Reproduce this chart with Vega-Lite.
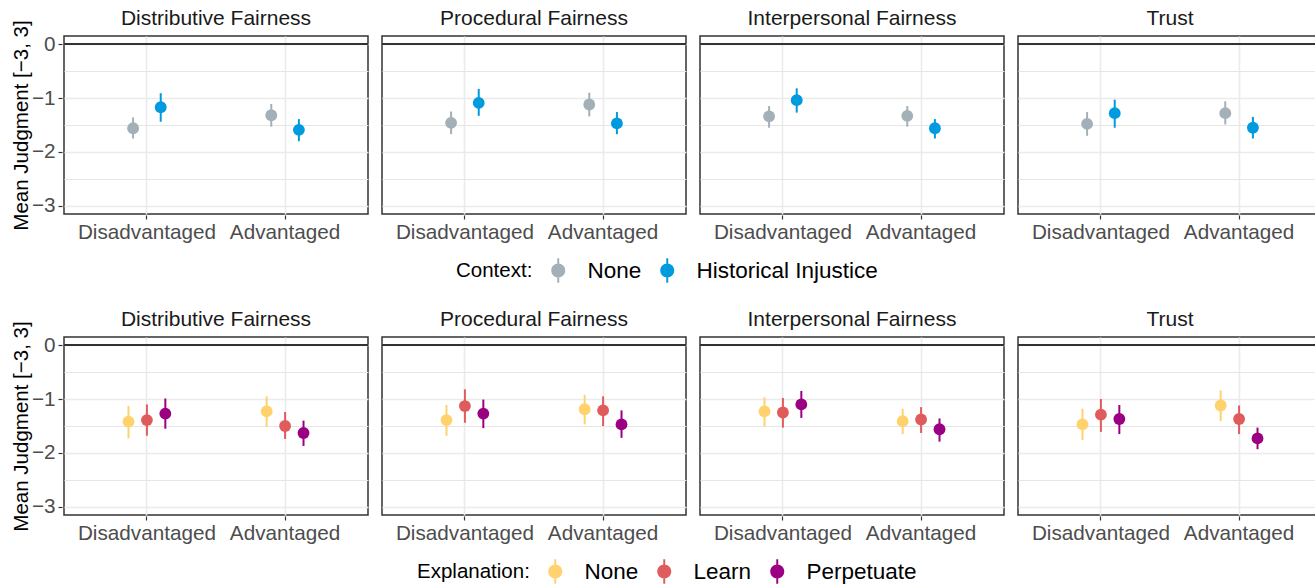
{
  "$schema": "https://vega.github.io/schema/vega-lite/v6.json",
  "background": "white",
  "padding": {"left": 11, "top": 8, "right": 2, "bottom": 2},
  "config": {
    "font": "Liberation Sans",
    "view": {"stroke": "#333333", "strokeWidth": 1.5},
    "concat": {"spacing": 26},
    "axis": {
      "domain": false,
      "tickColor": "#333333",
      "tickSize": 4,
      "tickWidth": 1.2,
      "labelFontSize": 20.7,
      "labelColor": "#4d4d4d",
      "labelPadding": 3,
      "titleFontSize": 20.5,
      "titleFontWeight": "normal",
      "titleColor": "#000000",
      "gridColor": "#ebebeb"
    },
    "axisY": {
      "values": [-3, -2.5, -2, -1.5, -1, -0.5, 0],
      "format": "d",
      "grid": true,
      "labelExpr": "datum.value % 1 === 0 ? datum.label : ''",
      "gridWidth": {"condition": {"test": "datum.value % 1 !== 0", "value": 1.2}, "value": 1.6},
      "gridColor": {"condition": {"test": "datum.value % 1 !== 0", "value": "#e6e6e6"}, "value": "#ebebeb"},
      "tickOpacity": {"condition": {"test": "datum.value % 1 !== 0", "value": 0}, "value": 1},
      "titlePadding": 0
    },
    "header": {
      "labelFontSize": 21,
      "labelColor": "#1a1a1a",
      "labelPadding": 6
    },
    "legend": {
      "orient": "bottom",
      "direction": "horizontal",
      "titleOrient": "left",
      "titleFontSize": 20.5,
      "titleFontWeight": "normal",
      "titleColor": "#000000",
      "titlePadding": 14,
      "labelFontSize": 22.5,
      "labelColor": "#000000",
      "labelOffset": 18,
      "labelLimit": 400,
      "columnPadding": 14,
      "symbolSize": 196,
      "symbolStrokeWidth": 0,
      "symbolOpacity": 1,
      "symbolType": "M-0.14,-1.75H0.14V1.75H-0.14Z M1,0A1,1 0 1,1 -1,0A1,1 0 1,1 1,0Z",
      "offset": 17,
      "layout": {"bottom": {"anchor": "middle"}}
    }
  },
  "datasets": {
    "context": [
      {"measure": "Distributive Fairness", "group": "Disadvantaged", "context": "None", "mean": -1.56, "lo": -1.75, "hi": -1.36},
      {"measure": "Distributive Fairness", "group": "Disadvantaged", "context": "Historical Injustice", "mean": -1.17, "lo": -1.44, "hi": -0.91},
      {"measure": "Distributive Fairness", "group": "Advantaged", "context": "None", "mean": -1.32, "lo": -1.53, "hi": -1.11},
      {"measure": "Distributive Fairness", "group": "Advantaged", "context": "Historical Injustice", "mean": -1.59, "lo": -1.80, "hi": -1.39},
      {"measure": "Procedural Fairness", "group": "Disadvantaged", "context": "None", "mean": -1.46, "lo": -1.67, "hi": -1.25},
      {"measure": "Procedural Fairness", "group": "Disadvantaged", "context": "Historical Injustice", "mean": -1.09, "lo": -1.33, "hi": -0.83},
      {"measure": "Procedural Fairness", "group": "Advantaged", "context": "None", "mean": -1.12, "lo": -1.34, "hi": -0.90},
      {"measure": "Procedural Fairness", "group": "Advantaged", "context": "Historical Injustice", "mean": -1.47, "lo": -1.67, "hi": -1.26},
      {"measure": "Interpersonal Fairness", "group": "Disadvantaged", "context": "None", "mean": -1.34, "lo": -1.55, "hi": -1.15},
      {"measure": "Interpersonal Fairness", "group": "Disadvantaged", "context": "Historical Injustice", "mean": -1.04, "lo": -1.27, "hi": -0.82},
      {"measure": "Interpersonal Fairness", "group": "Advantaged", "context": "None", "mean": -1.33, "lo": -1.53, "hi": -1.15},
      {"measure": "Interpersonal Fairness", "group": "Advantaged", "context": "Historical Injustice", "mean": -1.56, "lo": -1.75, "hi": -1.39},
      {"measure": "Trust", "group": "Disadvantaged", "context": "None", "mean": -1.48, "lo": -1.70, "hi": -1.26},
      {"measure": "Trust", "group": "Disadvantaged", "context": "Historical Injustice", "mean": -1.28, "lo": -1.55, "hi": -1.03},
      {"measure": "Trust", "group": "Advantaged", "context": "None", "mean": -1.28, "lo": -1.49, "hi": -1.06},
      {"measure": "Trust", "group": "Advantaged", "context": "Historical Injustice", "mean": -1.55, "lo": -1.75, "hi": -1.35}
    ],
    "explanation": [
      {"measure": "Distributive Fairness", "group": "Disadvantaged", "explanation": "None", "mean": -1.42, "lo": -1.73, "hi": -1.13},
      {"measure": "Distributive Fairness", "group": "Disadvantaged", "explanation": "Learn", "mean": -1.39, "lo": -1.68, "hi": -1.10},
      {"measure": "Distributive Fairness", "group": "Disadvantaged", "explanation": "Perpetuate", "mean": -1.27, "lo": -1.55, "hi": -0.99},
      {"measure": "Distributive Fairness", "group": "Advantaged", "explanation": "None", "mean": -1.23, "lo": -1.52, "hi": -0.95},
      {"measure": "Distributive Fairness", "group": "Advantaged", "explanation": "Learn", "mean": -1.50, "lo": -1.74, "hi": -1.24},
      {"measure": "Distributive Fairness", "group": "Advantaged", "explanation": "Perpetuate", "mean": -1.63, "lo": -1.87, "hi": -1.40},
      {"measure": "Procedural Fairness", "group": "Disadvantaged", "explanation": "None", "mean": -1.39, "lo": -1.68, "hi": -1.11},
      {"measure": "Procedural Fairness", "group": "Disadvantaged", "explanation": "Learn", "mean": -1.13, "lo": -1.44, "hi": -0.82},
      {"measure": "Procedural Fairness", "group": "Disadvantaged", "explanation": "Perpetuate", "mean": -1.27, "lo": -1.54, "hi": -1.01},
      {"measure": "Procedural Fairness", "group": "Advantaged", "explanation": "None", "mean": -1.19, "lo": -1.47, "hi": -0.92},
      {"measure": "Procedural Fairness", "group": "Advantaged", "explanation": "Learn", "mean": -1.21, "lo": -1.50, "hi": -0.95},
      {"measure": "Procedural Fairness", "group": "Advantaged", "explanation": "Perpetuate", "mean": -1.47, "lo": -1.72, "hi": -1.21},
      {"measure": "Interpersonal Fairness", "group": "Disadvantaged", "explanation": "None", "mean": -1.23, "lo": -1.51, "hi": -0.97},
      {"measure": "Interpersonal Fairness", "group": "Disadvantaged", "explanation": "Learn", "mean": -1.25, "lo": -1.53, "hi": -0.98},
      {"measure": "Interpersonal Fairness", "group": "Disadvantaged", "explanation": "Perpetuate", "mean": -1.10, "lo": -1.35, "hi": -0.85},
      {"measure": "Interpersonal Fairness", "group": "Advantaged", "explanation": "None", "mean": -1.41, "lo": -1.65, "hi": -1.18},
      {"measure": "Interpersonal Fairness", "group": "Advantaged", "explanation": "Learn", "mean": -1.38, "lo": -1.63, "hi": -1.15},
      {"measure": "Interpersonal Fairness", "group": "Advantaged", "explanation": "Perpetuate", "mean": -1.56, "lo": -1.79, "hi": -1.36},
      {"measure": "Trust", "group": "Disadvantaged", "explanation": "None", "mean": -1.47, "lo": -1.76, "hi": -1.18},
      {"measure": "Trust", "group": "Disadvantaged", "explanation": "Learn", "mean": -1.29, "lo": -1.61, "hi": -1.00},
      {"measure": "Trust", "group": "Disadvantaged", "explanation": "Perpetuate", "mean": -1.37, "lo": -1.65, "hi": -1.11},
      {"measure": "Trust", "group": "Advantaged", "explanation": "None", "mean": -1.12, "lo": -1.41, "hi": -0.84},
      {"measure": "Trust", "group": "Advantaged", "explanation": "Learn", "mean": -1.37, "lo": -1.65, "hi": -1.12},
      {"measure": "Trust", "group": "Advantaged", "explanation": "Perpetuate", "mean": -1.73, "lo": -1.93, "hi": -1.53}
    ]
  },
  "vconcat": [
    {
      "data": {"name": "context"},
      "facet": {
        "column": {
          "field": "measure", "type": "nominal",
          "sort": ["Distributive Fairness", "Procedural Fairness", "Interpersonal Fairness", "Trust"],
          "header": {"title": null}
        }
      },
      "spacing": 10,
      "spec": {
        "width": 304,
        "height": 178,
        "layer": [
          {
            "mark": {"type": "rule", "color": "#333333", "strokeWidth": 1.5},
            "encoding": {
              "y": {"datum": 0, "type": "quantitative", "title": "Mean Judgment [−3, 3]",
                "scale": {"domain": [-3.15, 0.15], "nice": false, "zero": false}}
            }
          },
          {
            "mark": {"type": "rule", "strokeWidth": 2},
            "encoding": {
              "x": {"field": "group", "type": "nominal", "sort": ["Disadvantaged", "Advantaged"], "title": null,
                "scale": {"paddingInner": 0.6, "paddingOuter": 0.4},
                "axis": {"labelAngle": 0, "grid": true, "gridWidth": 1.6}},
              "xOffset": {"field": "context", "type": "nominal", "sort": ["None", "Historical Injustice"]},
              "y": {"field": "lo", "type": "quantitative", "title": "Mean Judgment [−3, 3]"},
              "y2": {"field": "hi"},
              "color": {"field": "context", "type": "nominal", "sort": ["None", "Historical Injustice"],
                "scale": {"domain": ["None", "Historical Injustice"], "range": ["#a3b0b8", "#009ade"]},
                "legend": {"title": "Context:"}}
            }
          },
          {
            "mark": {"type": "circle", "size": 140, "opacity": 1},
            "encoding": {
              "x": {"field": "group", "type": "nominal", "sort": ["Disadvantaged", "Advantaged"], "title": null},
              "xOffset": {"field": "context", "type": "nominal", "sort": ["None", "Historical Injustice"]},
              "y": {"field": "mean", "type": "quantitative", "title": "Mean Judgment [−3, 3]"},
              "color": {"field": "context", "type": "nominal", "sort": ["None", "Historical Injustice"]}
            }
          }
        ]
      }
    },
    {
      "data": {"name": "explanation"},
      "facet": {
        "column": {
          "field": "measure", "type": "nominal",
          "sort": ["Distributive Fairness", "Procedural Fairness", "Interpersonal Fairness", "Trust"],
          "header": {"title": null}
        }
      },
      "spacing": 10,
      "spec": {
        "width": 304,
        "height": 178,
        "layer": [
          {
            "mark": {"type": "rule", "color": "#333333", "strokeWidth": 1.5},
            "encoding": {
              "y": {"datum": 0, "type": "quantitative", "title": "Mean Judgment [−3, 3]",
                "scale": {"domain": [-3.15, 0.15], "nice": false, "zero": false}}
            }
          },
          {
            "mark": {"type": "rule", "strokeWidth": 2},
            "encoding": {
              "x": {"field": "group", "type": "nominal", "sort": ["Disadvantaged", "Advantaged"], "title": null,
                "scale": {"paddingInner": 0.6, "paddingOuter": 0.4},
                "axis": {"labelAngle": 0, "grid": true, "gridWidth": 1.6}},
              "xOffset": {"field": "explanation", "type": "nominal", "sort": ["None", "Learn", "Perpetuate"]},
              "y": {"field": "lo", "type": "quantitative", "title": "Mean Judgment [−3, 3]"},
              "y2": {"field": "hi"},
              "color": {"field": "explanation", "type": "nominal", "sort": ["None", "Learn", "Perpetuate"],
                "scale": {"domain": ["None", "Learn", "Perpetuate"], "range": ["#ffd26e", "#e05c5c", "#9b0083"]},
                "legend": {"title": "Explanation:"}}
            }
          },
          {
            "mark": {"type": "circle", "size": 140, "opacity": 1},
            "encoding": {
              "x": {"field": "group", "type": "nominal", "sort": ["Disadvantaged", "Advantaged"], "title": null},
              "xOffset": {"field": "explanation", "type": "nominal", "sort": ["None", "Learn", "Perpetuate"]},
              "y": {"field": "mean", "type": "quantitative", "title": "Mean Judgment [−3, 3]"},
              "color": {"field": "explanation", "type": "nominal", "sort": ["None", "Learn", "Perpetuate"]}
            }
          }
        ]
      }
    }
  ],
  "resolve": {"scale": {"color": "independent", "xOffset": "independent"}, "legend": {"color": "independent"}}
}
